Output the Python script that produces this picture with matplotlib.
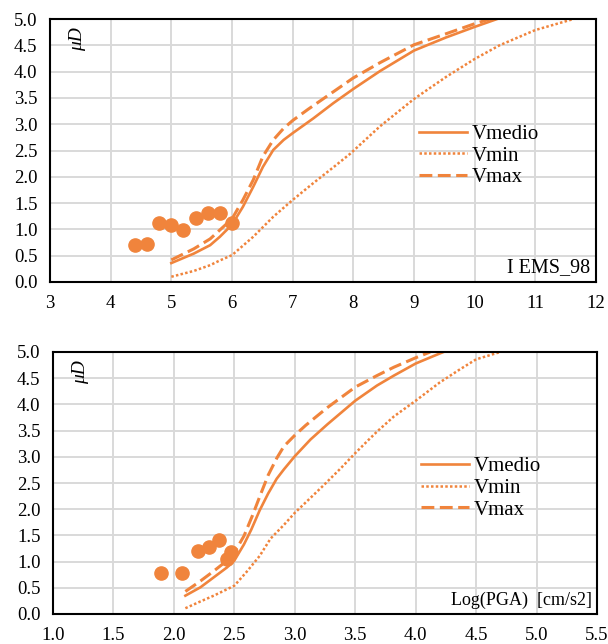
import matplotlib
matplotlib.use("Agg")
import matplotlib.pyplot as plt

plt.rcParams['font.family'] = ['Liberation Serif', 'DejaVu Serif']

orange = '#F0843C'
grid_col = '#D9D9D9'

# ---- top panel: I EMS_98 ----
ems_obs_x = [4.4, 4.6, 4.8, 5.0, 5.2, 5.4, 5.6, 5.8, 6.0]
ems_obs_y = [0.70, 0.72, 1.12, 1.09, 0.99, 1.21, 1.32, 1.32, 1.13]

ems_med_x = [5.0, 5.37, 5.64, 5.8, 6.0, 6.18, 6.35, 6.51, 6.68, 6.85, 7.0, 7.34, 7.67, 8.0, 8.44, 9.0, 9.53, 10.0, 10.37]
ems_med_y = [0.36, 0.54, 0.70, 0.86, 1.09, 1.43, 1.81, 2.19, 2.51, 2.70, 2.83, 3.11, 3.40, 3.67, 4.01, 4.40, 4.65, 4.85, 5.0]

ems_max_x = [5.0, 5.37, 5.64, 6.0, 6.18, 6.35, 6.51, 6.68, 6.85, 7.0, 7.25, 7.5, 7.75, 8.0, 8.44, 9.0, 9.53, 10.0, 10.25]
ems_max_y = [0.42, 0.63, 0.82, 1.20, 1.56, 1.94, 2.39, 2.70, 2.92, 3.07, 3.28, 3.48, 3.68, 3.88, 4.17, 4.51, 4.72, 4.91, 5.0]

ems_min_x = [5.0, 5.37, 5.64, 5.8, 6.0, 6.35, 6.68, 7.0, 7.34, 7.67, 7.95, 8.44, 9.0, 9.53, 10.0, 10.41, 11.0, 11.63]
ems_min_y = [0.10, 0.21, 0.32, 0.41, 0.51, 0.86, 1.24, 1.56, 1.88, 2.18, 2.44, 2.96, 3.48, 3.90, 4.24, 4.50, 4.79, 5.0]

# ---- bottom panel: Log(PGA) ----
pga_obs_x = [1.89, 2.07, 2.2, 2.29, 2.37, 2.44, 2.47]
pga_obs_y = [0.79, 0.79, 1.21, 1.28, 1.41, 1.05, 1.18]

pga_med_x = [2.095, 2.22, 2.33, 2.44, 2.5, 2.58, 2.64, 2.71, 2.78, 2.85, 2.91, 3.0, 3.13, 3.27, 3.5, 3.68, 3.82, 4.0, 4.145, 4.23]
pga_med_y = [0.35, 0.51, 0.70, 0.89, 1.02, 1.33, 1.61, 1.98, 2.30, 2.58, 2.76, 3.01, 3.33, 3.62, 4.07, 4.36, 4.55, 4.78, 4.92, 5.0]

pga_max_x = [2.095, 2.22, 2.33, 2.44, 2.5, 2.58, 2.65, 2.72, 2.78, 2.85, 2.91, 3.0, 3.09, 3.27, 3.5, 3.68, 3.82, 4.0, 4.12]
pga_max_y = [0.43, 0.63, 0.82, 1.02, 1.17, 1.49, 1.88, 2.30, 2.65, 2.97, 3.20, 3.41, 3.60, 3.94, 4.33, 4.55, 4.71, 4.89, 5.0]

pga_min_x = [2.095, 2.22, 2.33, 2.5, 2.6, 2.71, 2.80, 2.91, 3.0, 3.10, 3.24, 3.38, 3.5, 3.6, 3.68, 3.82, 4.0, 4.2, 4.36, 4.5, 4.7]
pga_min_y = [0.11, 0.24, 0.35, 0.54, 0.80, 1.11, 1.44, 1.70, 1.93, 2.15, 2.46, 2.78, 3.07, 3.30, 3.48, 3.77, 4.07, 4.42, 4.66, 4.86, 5.0]

top_xticks = [3, 4, 5, 6, 7, 8, 9, 10, 11, 12]
bot_xticks = [1.0, 1.5, 2.0, 2.5, 3.0, 3.5, 4.0, 4.5, 5.0, 5.5]
yticks = [0.0, 0.5, 1.0, 1.5, 2.0, 2.5, 3.0, 3.5, 4.0, 4.5, 5.0]

fig = plt.figure(figsize=(6.08, 6.44), dpi=100)
ax1 = fig.add_axes([50 / 608, 1 - 282 / 644, 546 / 608, 263 / 644])
ax2 = fig.add_axes([53 / 608, 1 - 614 / 644, 544 / 608, 262 / 644])


def style_axes(ax, xlim, xticks, fmt):
    ax.set_xlim(*xlim)
    ax.set_ylim(0, 5)
    ax.set_xticks(xticks)
    ax.set_xticklabels([fmt.format(t) for t in xticks])
    ax.set_yticks(yticks)
    ax.set_yticklabels(['{:.1f}'.format(t) for t in yticks])
    ax.grid(True, color=grid_col, linewidth=1.4)
    ax.set_axisbelow(True)
    ax.tick_params(length=0, labelsize=13.5, pad=9)
    for s in ax.spines.values():
        s.set_linewidth(1.5)
        s.set_color('black')


def draw(ax, obs_x, obs_y, mx, my, nx, ny, xx, xy):
    ax.plot(obs_x, obs_y, 'o', color=orange, markersize=9.5, zorder=4)
    ax.plot(mx, my, '-', color=orange, linewidth=1.9, label='Vmedio')
    ax.plot(nx, ny, color=orange, linewidth=1.8, linestyle=(0, (1, 0.9)), label='Vmin')
    ax.plot(xx, xy, color=orange, linewidth=2.2, linestyle=(0, (4.2, 1.8)), label='Vmax')
    ax.legend(loc='center left', bbox_to_anchor=(0.676, 0.48), frameon=False,
              fontsize=15, handlelength=2.3, handletextpad=0.25, labelspacing=0.1,
              borderpad=0, borderaxespad=0)
    ax.text(0.05, 0.97, 'μD', transform=ax.transAxes, rotation=90,
            ha='center', va='top', fontsize=14, style='italic')


draw(ax1, ems_obs_x, ems_obs_y, ems_med_x, ems_med_y, ems_min_x, ems_min_y, ems_max_x, ems_max_y)
style_axes(ax1, (3, 12), top_xticks, '{:d}')
ax1.text(0.99, 0.02, 'I EMS_98', transform=ax1.transAxes, ha='right', va='bottom', fontsize=14.5)

draw(ax2, pga_obs_x, pga_obs_y, pga_med_x, pga_med_y, pga_min_x, pga_min_y, pga_max_x, pga_max_y)
style_axes(ax2, (1.0, 5.5), bot_xticks, '{:.1f}')
ax2.text(0.99, 0.02, 'Log(PGA)  [cm/s2]', transform=ax2.transAxes, ha='right', va='bottom', fontsize=13)

fig.savefig('out.png', dpi=100)
